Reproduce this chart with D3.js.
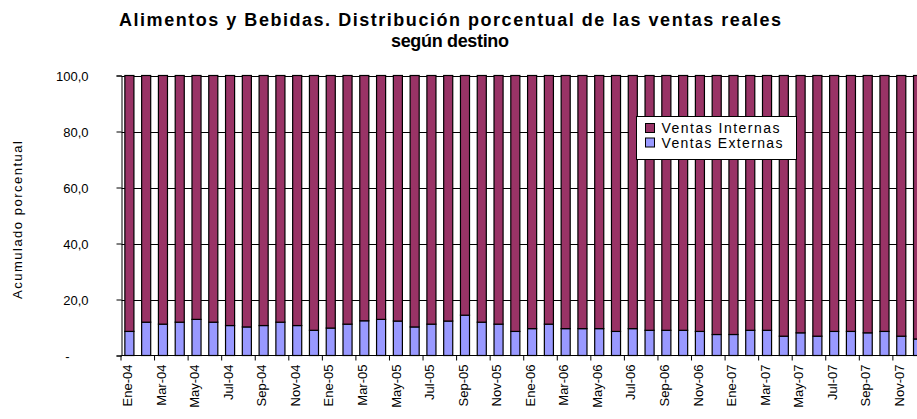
<!DOCTYPE html>
<html>
<head>
<meta charset="utf-8">
<script src="https://cdn.jsdelivr.net/npm/d3@7"></script>
<style>
  body { margin: 0; background: #fff; }
  svg { display: block; font-family: "Liberation Sans", Arial, sans-serif; }
</style>
</head>
<body>
<svg id="chart" width="917" height="419"></svg>
<script>
var years = ['04', '05', '06', '07']
var monthNames = ['Ene', 'Feb', 'Mar', 'Abr', 'May', 'Jun', 'Jul', 'Ago', 'Sep', 'Oct', 'Nov', 'Dic']
var months = []
years.forEach(function (yr) {
  monthNames.forEach(function (m) { months.push(m + '-' + yr) })
})

// share of external sales (%)
var ventasExternas = [
  8.6, 11.9, 11.2, 11.9, 12.9, 11.9, 10.7, 10.2, 10.7, 11.9, 10.7, 9.0,
  9.8, 11.2, 12.4, 12.9, 12.3, 10.2, 11.2, 12.3, 14.4, 11.9, 11.2, 8.6,
  9.6, 11.2, 9.6, 9.6, 9.6, 8.6, 9.6, 9.0, 9.0, 9.0, 8.6, 7.5,
  7.5, 9.0, 9.0, 6.9, 8.1, 6.9, 8.6, 8.6, 8.1, 8.6, 6.9, 5.9
]
var ventasInternas = ventasExternas.map(function (v) { return 100 - v })

var yTicks = [0, 20, 40, 60, 80, 100]
var seriesNames = ['Ventas Internas', 'Ventas Externas']
var seriesColors = ['#993366', '#9999ff']

var svg = d3.select('#chart')
var plotLeft = 121.5
var bandStart = 121
var step = 16.78
var plotTop = 75.5
var plotBottom = 355.5

var x = d3.scaleBand()
  .domain(months)
  .range([bandStart, bandStart + step * months.length])
  .paddingInner(0.46)
  .paddingOuter(0.23)

var y = d3.scaleLinear().domain([0, 100]).range([plotBottom, plotTop])

// title
var title = svg.append('text')
  .attr('text-anchor', 'middle')
  .attr('font-weight', 'bold')
  .attr('font-size', 18)
  .attr('fill', '#000')
title.append('tspan')
  .attr('x', 450).attr('y', 26)
  .attr('textLength', 662).attr('lengthAdjust', 'spacing')
  .text('Alimentos y Bebidas.  Distribución porcentual de las ventas reales')
title.append('tspan')
  .attr('x', 450).attr('y', 47)
  .attr('textLength', 118).attr('lengthAdjust', 'spacing')
  .text('según destino')

// grid lines
svg.append('g')
  .selectAll('line')
  .data(yTicks.filter(function (d) { return d > 0 }))
  .join('line')
  .attr('x1', plotLeft).attr('x2', 917)
  .attr('y1', function (d) { return Math.round(y(d)) + 0.5 })
  .attr('y2', function (d) { return Math.round(y(d)) + 0.5 })
  .attr('stroke', '#000')
  .attr('stroke-width', 1)

// stacked bars
var table = months.map(function (m, i) {
  return { month: m, externas: ventasExternas[i], internas: ventasInternas[i] }
})
var stack = d3.stack().keys(['externas', 'internas'])(table)
var colorFor = { externas: seriesColors[1], internas: seriesColors[0] }

svg.append('g')
  .selectAll('g')
  .data(stack)
  .join('g')
  .attr('fill', function (s) { return colorFor[s.key] })
  .selectAll('rect')
  .data(function (s) { return s })
  .join('rect')
  .attr('x', function (d) { return x(d.data.month) })
  .attr('width', x.bandwidth())
  .attr('y', function (d) { return y(d[1]) })
  .attr('height', function (d) { return y(d[0]) - y(d[1]) })
  .attr('stroke', '#000')
  .attr('stroke-width', 1.2)

// y axis
var yAxis = svg.append('g')
  .attr('transform', 'translate(' + plotLeft + ',0)')
  .call(d3.axisLeft(y).tickValues(yTicks).tickSize(5)
    .tickFormat(function (d) { return d === 0 ? '-' : d3.format('.1f')(d).replace('.', ',') }))
yAxis.select('.domain').attr('stroke', '#000')
yAxis.selectAll('.tick line').attr('stroke', '#000')
yAxis.selectAll('.tick text')
  .attr('font-size', 13)
  .attr('fill', '#000')
  .attr('x', -33)
  .attr('dy', '0.36em')
  .filter(function (d) { return d === 0 })
  .attr('x', -52)

// x axis
var evenMonths = months.filter(function (m, i) { return i % 2 === 0 })
var xAxis = svg.append('g')
  .attr('transform', 'translate(0,' + plotBottom + ')')
  .call(d3.axisBottom(x).tickValues(evenMonths).tickSize(5).tickSizeOuter(0))
xAxis.select('.domain').attr('stroke', '#000').attr('d', 'M' + plotLeft + ',0H917')
xAxis.selectAll('.tick line')
  .attr('stroke', '#000')
  .attr('x1', -step / 2).attr('x2', -step / 2)
xAxis.selectAll('.tick text')
  .attr('font-size', 13)
  .attr('fill', '#000')
  .attr('transform', 'rotate(-90)')
  .attr('text-anchor', 'end')
  .attr('x', -9)
  .attr('y', -2)
  .attr('dy', '0.36em')

// y axis title
svg.append('text')
  .attr('transform', 'translate(22,220) rotate(-90)')
  .attr('text-anchor', 'middle')
  .attr('font-size', 13)
  .attr('textLength', 158).attr('lengthAdjust', 'spacing')
  .text('Acumulado porcentual')

// legend
var legend = svg.append('g').attr('transform', 'translate(636.5,116.5)')
legend.append('rect')
  .attr('width', 160).attr('height', 43)
  .attr('fill', '#fff').attr('stroke', '#000')
var items = legend.selectAll('g.item')
  .data(seriesNames)
  .join('g')
  .attr('class', 'item')
  .attr('transform', function (d, i) { return 'translate(9,' + (7 + i * 14.5) + ')' })
items.append('rect')
  .attr('width', 9).attr('height', 9)
  .attr('fill', function (d, i) { return seriesColors[i] })
  .attr('stroke', '#000')
items.append('text')
  .attr('x', 16).attr('y', 9.5)
  .attr('font-size', 14)
  .attr('textLength', function (d, i) { return i === 0 ? 118 : 121 })
  .attr('lengthAdjust', 'spacing')
  .text(function (d) { return d })
</script>
</body>
</html>
